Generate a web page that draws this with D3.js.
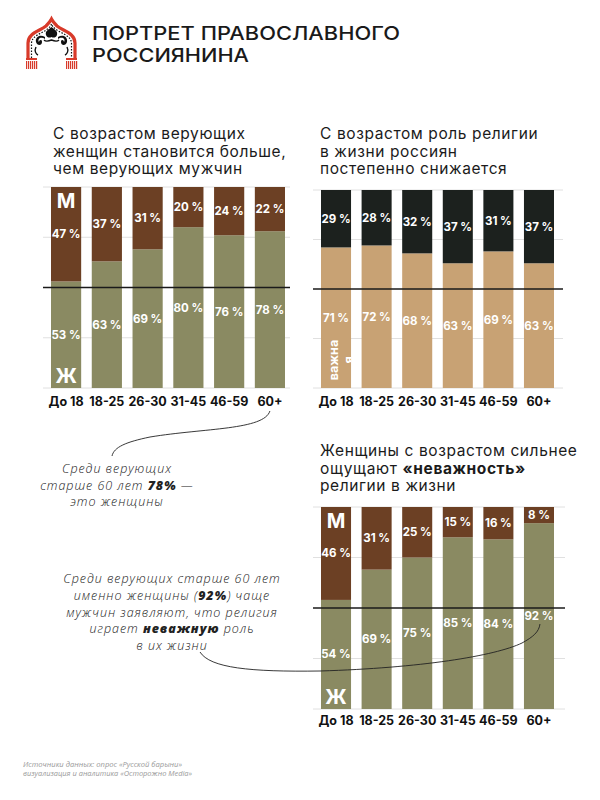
<!DOCTYPE html>
<html><head><meta charset="utf-8">
<script src="https://cdn.jsdelivr.net/npm/d3@7"></script>
<style>body{margin:0;background:#fff} svg{display:block}</style>
</head><body><svg id="c" width="600" height="800"></svg>
<script>
const categories = ["До 18","18-25","26-30","31-45","46-59","60+"];
const believersWomen = [53,63,69,80,76,78];
const believersMen   = [47,37,31,20,24,22];
const importanceYes  = [71,72,68,63,69,63];
const importanceNo   = [29,28,32,37,31,37];
const unimportantWomen = [54,69,75,85,84,92];
const unimportantMen   = [46,31,25,15,16,8];
const gridTicks = [0,25,75,100];

const COL = {brown:"#6c4024", olive:"#8a8a62", tan:"#c8a274", dark:"#1c211e", text:"#1b1b1b", red:"#d83a2a"};
const FONT = "Inter, 'Noto Sans', sans-serif";
const IFONT = "'Open Sans', 'Noto Sans', sans-serif";
const svg = d3.select("#c");

// ---------- header ----------
const logo = svg.append("g");
logo.append("path")
  .attr("d","M28 60 L28 43 C28 33 40 31 46 26 C49 23 50 22 51.5 19 C53 22 54 23 57 26 C63 31 75 33 75 43 L75 60")
  .attr("fill","none").attr("stroke",COL.red).attr("stroke-width",3.2);
logo.append("path")
  .attr("d","M31.5 58 L31.5 43.5 C31.5 35.5 42 33.5 47.5 29 C50 27 51 25.5 51.5 24 C52 25.5 53 27 55.5 29 C61 33.5 71.5 35.5 71.5 43.5 L71.5 58")
  .attr("fill","none").attr("stroke","#111").attr("stroke-width",1.2).attr("stroke-dasharray","1.5 1.5");
logo.append("path").attr("fill","#111")
  .attr("d","M51.5 27 C55 30 58 31 57 35 C56 38 53 38 51.5 37 C50 38 47 38 46 35 C45 31 48 30 51.5 27 Z");
logo.append("path").attr("fill","#111")
  .attr("d","M45 37 C40 34 35 37 36 42 C37 46 42 46 42 42 C42 39 39 40 39 42 C37 39 41 36 45 39 Z");
logo.append("path").attr("fill","#111")
  .attr("d","M58 37 C63 34 68 37 67 42 C66 46 61 46 61 42 C61 39 64 40 64 42 C66 39 62 36 58 39 Z");
logo.append("path").attr("fill","none").attr("stroke","#111").attr("stroke-width",1.4)
  .attr("d","M36 47 C34 51 36 54 38 55 M67 47 C69 51 67 54 65 55 M44 40 C46 42 49 41 51.5 40 C54 41 57 42 59 40");
[[26,37],[66,77]].forEach(([a,b])=>{
  logo.append("rect").attr("x",a).attr("y",58).attr("width",b-a).attr("height",2).attr("fill",COL.red);
  d3.range(a,b,2).forEach(xx=>logo.append("rect").attr("x",xx).attr("y",61).attr("width",1.2).attr("height",8).attr("fill",COL.red));
});

const head = svg.append("g").attr("font-family",FONT).attr("font-weight",500).attr("fill","#1a1a1a").attr("font-size",19);
head.append("text").attr("x",92).attr("y",40).attr("textLength",308).attr("lengthAdjust","spacingAndGlyphs").text("ПОРТРЕТ ПРАВОСЛАВНОГО");
head.append("text").attr("x",92).attr("y",62).attr("textLength",157).attr("lengthAdjust","spacingAndGlyphs").text("РОССИЯНИНА");

// ---------- titles ----------
function title(x, ys, lines){
  const t = svg.append("g").attr("font-family",FONT).attr("font-size",15.5).attr("letter-spacing",0.6).attr("fill",COL.text);
  lines.forEach((ln,i)=>{
    const tx = t.append("text").attr("x",x).attr("y",ys[i]);
    ln.forEach(part=>tx.append("tspan").attr("font-weight",part.b?700:400).text(part.t));
  });
}
title(53,[139,156.5,174],[[{t:"С возрастом верующих"}],[{t:"женщин становится больше,"}],[{t:"чем верующих мужчин"}]]);
title(320,[139,156.5,174],[[{t:"С возрастом роль религии"}],[{t:"в жизни россиян"}],[{t:"постепенно снижается"}]]);
title(320,[456,473.5,491],[[{t:"Женщины с возрастом сильнее"}],[{t:"ощущают "},{t:"«неважность»",b:true}],[{t:"религии в жизни"}]]);

// ---------- charts ----------
function stacked(o){
  const g = svg.append("g");
  const x = d3.scaleBand().domain(categories).range([o.x0,o.x1]).paddingInner(0.26).paddingOuter(0);
  const y = d3.scaleLinear().domain([0,100]).range([o.yBot,o.yTop]);
  g.selectAll("line.grid").data(gridTicks).join("line").attr("class","grid")
    .attr("x1",o.l0).attr("x2",o.l1).attr("y1",d=>y(d)).attr("y2",d=>y(d))
    .attr("stroke","#e0e0e0").attr("stroke-width",1);
  const rows = categories.map((c,i)=>({c, b:o.bottom[i], t:o.top[i]}));
  g.selectAll("rect.b").data(rows).join("rect").attr("class","b")
    .attr("x",d=>x(d.c)).attr("width",x.bandwidth()).attr("y",d=>y(d.b)).attr("height",d=>y(0)-y(d.b)).attr("fill",o.bottomColor);
  g.selectAll("rect.t").data(rows).join("rect").attr("class","t")
    .attr("x",d=>x(d.c)).attr("width",x.bandwidth()).attr("y",d=>y(d.b+d.t)).attr("height",d=>y(d.b)-y(d.b+d.t)).attr("fill",o.topColor);
  g.append("line").attr("x1",o.l0).attr("x2",o.l1).attr("y1",y(50)).attr("y2",y(50)).attr("stroke","#1a1a1a").attr("stroke-width",1.6);
  const lab = g.append("g").attr("font-family",FONT).attr("font-weight",700).attr("font-size",11.5).attr("fill","#fff").attr("text-anchor","middle");
  lab.selectAll("text.tb").data(rows).join("text").attr("class","tb")
    .attr("x",d=>x(d.c)+x.bandwidth()/2).attr("y",d=>(y(0)+y(d.b))/2).attr("dy","0.35em").text(d=>d.b+" %");
  lab.selectAll("text.tt").data(rows).join("text").attr("class","tt")
    .attr("x",d=>x(d.c)+x.bandwidth()/2).attr("y",d=>(y(d.b)+y(d.b+d.t))/2).attr("dy","0.35em").text(d=>d.t+" %");
  const ax = g.append("g").attr("transform",`translate(0,${o.axisY})`).call(d3.axisBottom(x).tickSize(0).tickPadding(0));
  ax.select(".domain").remove();
  ax.selectAll("text").attr("y",0).attr("dy","0.35em").attr("font-family",FONT).attr("font-weight",700).attr("font-size",12.5).attr("fill","#111");
  if(o.sex){
    const cx = x(categories[0])+x.bandwidth()/2;
    lab.append("text").attr("x",cx).attr("y",y(100)+14).attr("dy","0.35em").attr("font-size",20).text("М");
    lab.append("text").attr("x",cx).attr("y",y(0)-12).attr("dy","0.35em").attr("font-size",20).text("Ж");
  }
  return {g,x,y};
}

const c1 = stacked({x0:51,x1:285,yTop:187,yBot:388,l0:43,l1:290,axisY:402,bottom:believersWomen,top:believersMen,bottomColor:COL.olive,topColor:COL.brown,sex:true});
const c2 = stacked({x0:321,x1:554,yTop:190,yBot:388,l0:313,l1:563,axisY:402,bottom:importanceYes,top:importanceNo,bottomColor:COL.tan,topColor:COL.dark});
const c3 = stacked({x0:321,x1:554,yTop:507,yBot:709,l0:313,l1:565,axisY:721,bottom:unimportantWomen,top:unimportantMen,bottomColor:COL.olive,topColor:COL.brown,sex:true});

{
  const c0 = categories[0], bx = c2.x(c0), bw = c2.x.bandwidth();
  svg.append("clipPath").attr("id","clipB").append("rect").attr("x",bx).attr("y",c2.y(100)).attr("width",bw).attr("height",c2.y(0)-c2.y(100));
  const vt = svg.append("g").attr("clip-path","url(#clipB)")
    .append("text").attr("transform",`translate(${bx+bw/2-2},360) rotate(-90)`)
    .attr("font-family",FONT).attr("font-weight",700).attr("font-size",12.5).attr("fill","#fff").attr("text-anchor","middle");
  vt.append("tspan").attr("x",0).attr("dy","0.35em").text("важна");
  vt.append("tspan").attr("x",0).attr("dy","1.15em").text("я");
}

// ---------- annotations ----------
function note(cx, ys, lines){
  const t = svg.append("g").attr("font-family",IFONT).attr("font-style","italic").attr("font-weight",300)
    .attr("font-size",12.5).attr("letter-spacing",0.95).attr("fill","#222").attr("text-anchor","middle");
  lines.forEach((ln,i)=>{
    const tx = t.append("text").attr("x",cx).attr("y",ys[i]);
    ln.forEach(p=>tx.append("tspan").attr("font-weight",p.b?800:300).text(p.t));
  });
}
note(117,[473,489.5,506],[[{t:"Среди верующих"}],[{t:"старше 60 лет "},{t:"78%",b:true},{t:" —"}],[{t:"это женщины"}]]);
note(172,[583,600,616.5,633,650],[
  [{t:"Среди верующих старше 60 лет"}],
  [{t:"именно женщины ("},{t:"92%",b:true},{t:") чаще"}],
  [{t:"мужчин заявляют, что религия"}],
  [{t:"играет "},{t:"неважную",b:true},{t:" роль"}],
  [{t:"в их жизни"}]]);

{
  const e1x = c1.x("60+")+c1.x.bandwidth()/2;
  svg.append("path").attr("fill","none").attr("stroke","#222").attr("stroke-width",0.9)
    .attr("d",`M${e1x} 411 C${e1x-6} 430 205 428 150 437 C126 442 114 447 112 456`);
  const e2x = c3.x("60+")+c3.x.bandwidth()/2;
  svg.append("path").attr("fill","none").attr("stroke","#222").attr("stroke-width",0.9)
    .attr("d",`M200 652 C210 668 250 672 320 671 C420 668 495 656 522 643 C533 637 ${e2x} 632 ${e2x+1} 624`);
}

// ---------- footer ----------
const ft = svg.append("g").attr("font-family",IFONT).attr("font-style","italic").attr("font-size",7).attr("fill","#9a9a9a");
ft.append("text").attr("x",23).attr("y",767).attr("textLength",159).attr("lengthAdjust","spacingAndGlyphs").text("Источники данных: опрос «Русской барыни»");
ft.append("text").attr("x",23).attr("y",776).attr("textLength",169).attr("lengthAdjust","spacingAndGlyphs").text("визуализация и аналитика «Осторожно Media»");
</script></body></html>
